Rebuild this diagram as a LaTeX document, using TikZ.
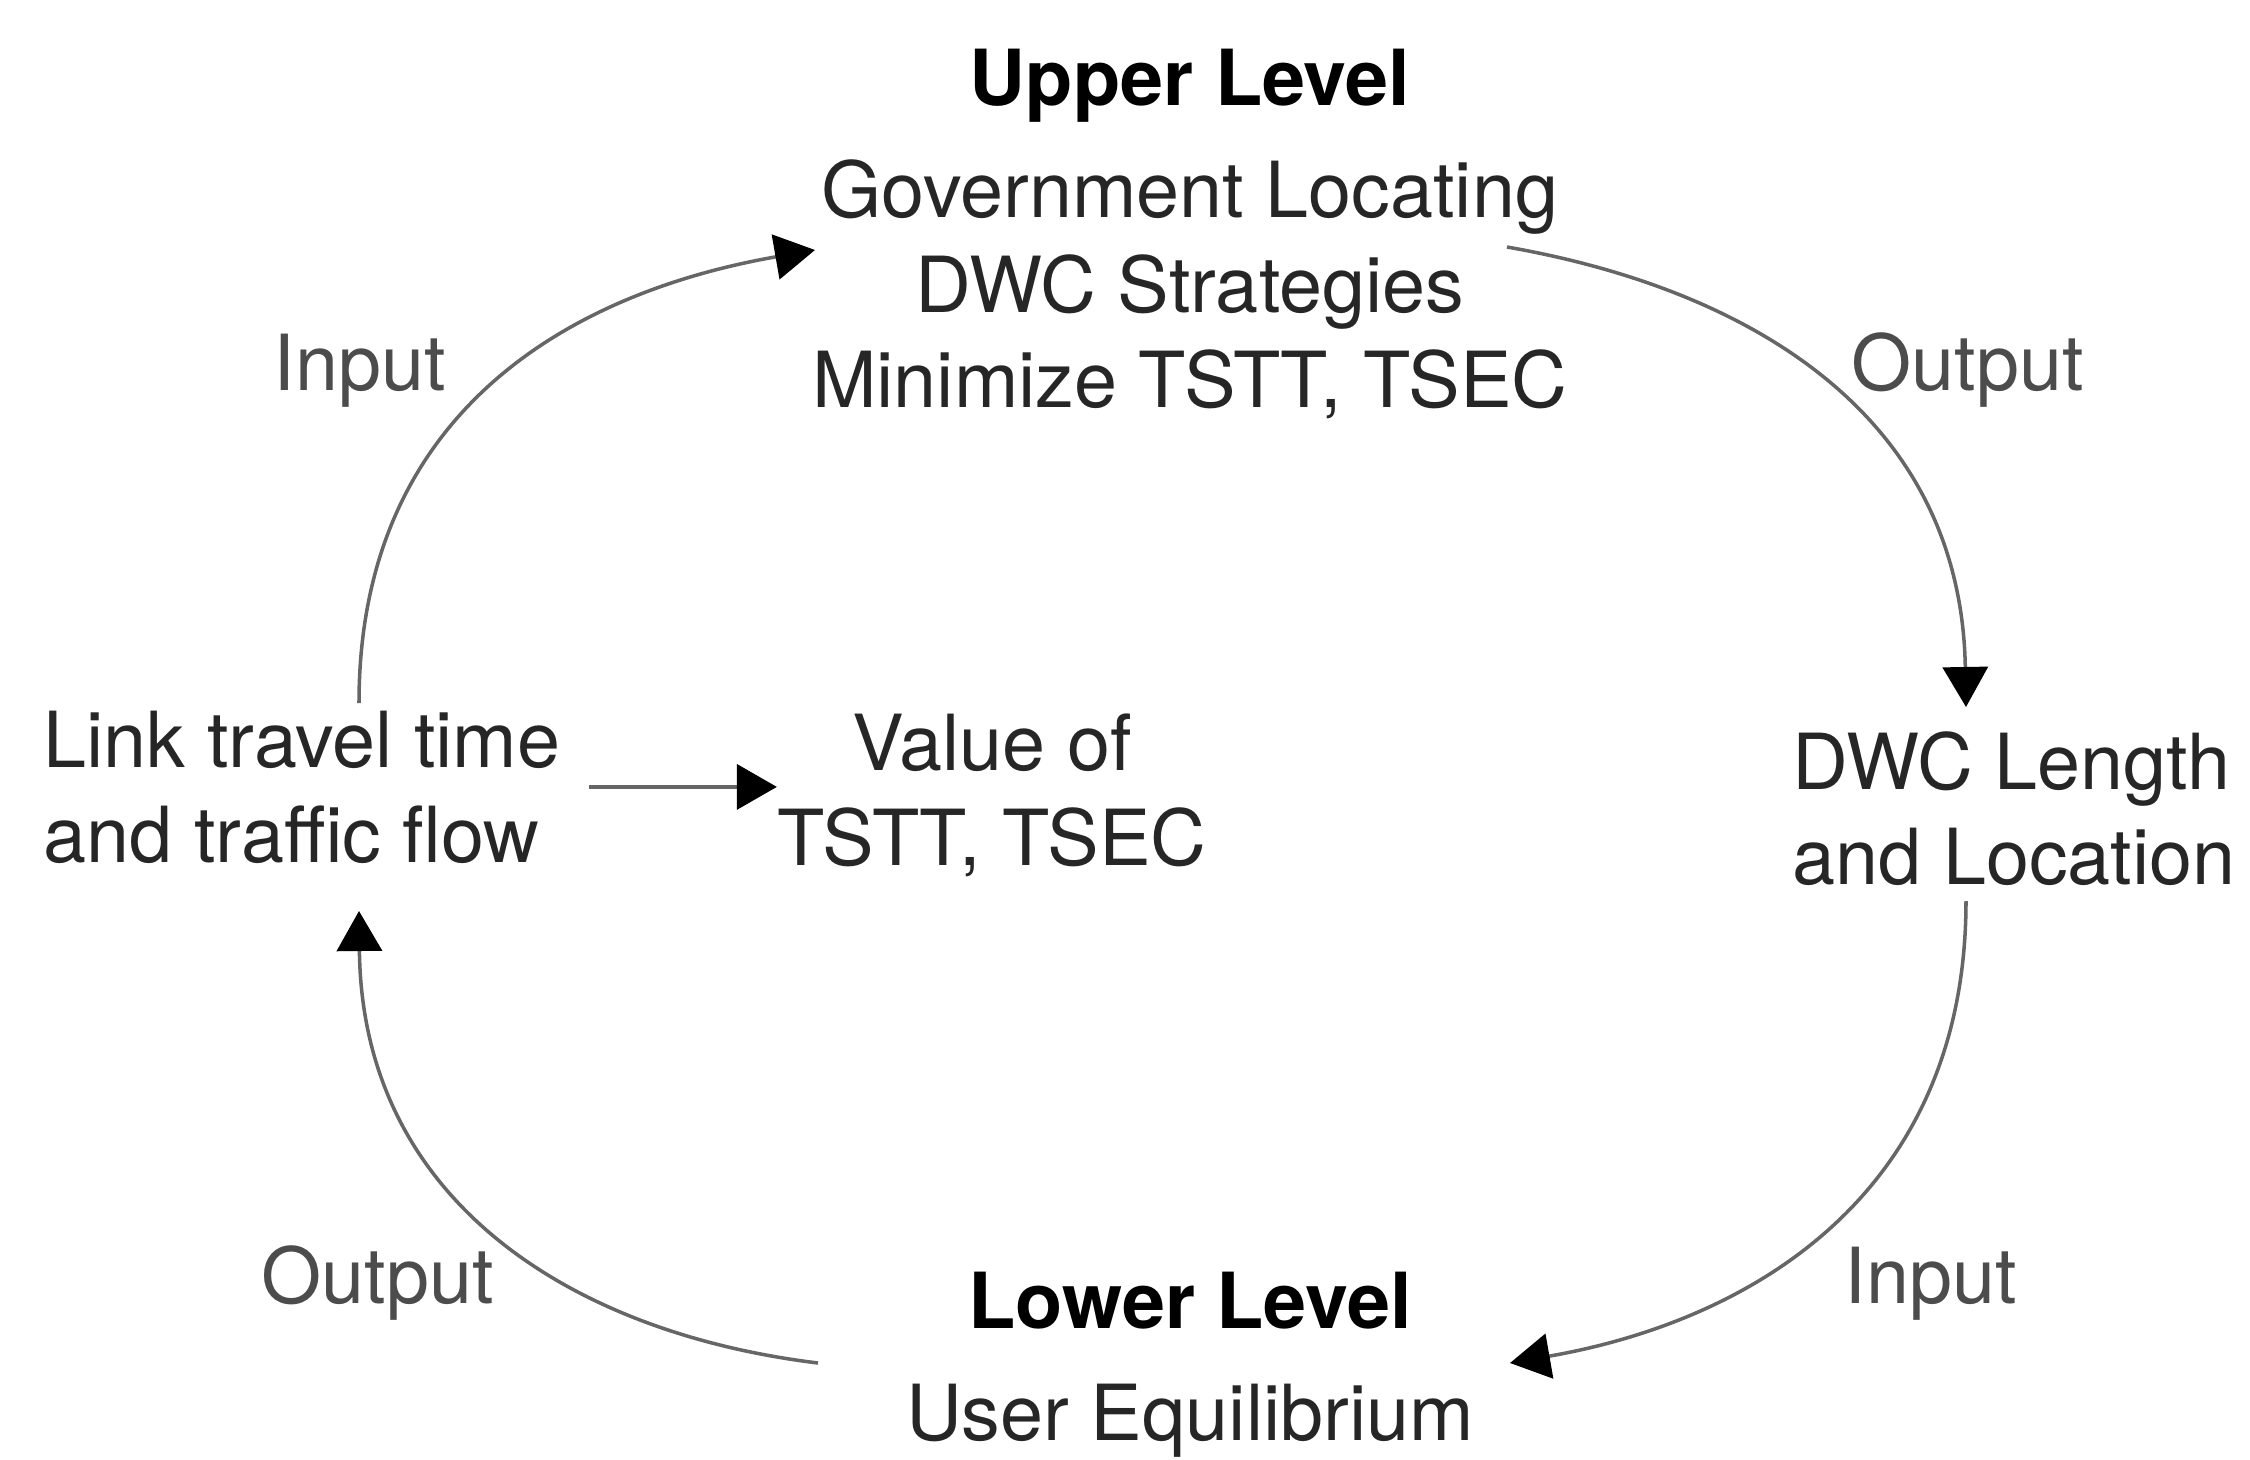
\documentclass[tikz,border=0pt]{standalone}
\usepackage{fontspec}
\setmainfont{TeX Gyre Heros}
\usetikzlibrary{arrows.meta}

\begin{document}
\begin{tikzpicture}[x=0.01cm, y=-0.01cm]
\tikzset{t/.style={font=\fontsize{22}{27}\selectfont, text=black!85, inner sep=0pt, align=center},
hd/.style={t, font=\fontsize{22}{27}\selectfont\bfseries, text=black},
lbl/.style={t, text=black!70},
f/.style={-{Triangle[length=0.4cm, width=0.45cm, color=black]}, draw=black!60, line width=1pt}};

\useasboundingbox (0,0) rectangle (2250,1460);

% anchor=base is the baseline of the last line
\node[hd, anchor=base] (upper) at (1190,105) {Upper Level};
\node[t, anchor=base] (gov) at (1190,407) {Government Locating\\DWC Strategies\\Minimize TSTT, TSEC};
\node[t, anchor=base west, align=left] (link) at (43,862) {Link travel time\\and traffic flow};
\node[t, anchor=base] (value) at (992,865) {Value of\\TSTT, TSEC};
\node[t, anchor=base west, align=left] (dwc) at (1792,884) {DWC Length\\and Location};
\node[hd, anchor=base] (lower) at (1190,1328) {Lower Level};
\node[t, anchor=base] (ue) at (1190,1440) {User Equilibrium};

\node[lbl, anchor=base west] (in1) at (273,390) {Input};
\node[lbl, anchor=base west] (out1) at (1851,390) {Output};
\node[lbl, anchor=base west] (out2) at (261,1303) {Output};
\node[lbl, anchor=base west] (in2) at (1844,1303) {Input};

% ends of the loop arcs
\coordinate (tl0) at (359,703);
\coordinate (tl1) at (815,250);
\coordinate (tr0) at (1507,247);
\coordinate (tr1) at (1966,707);
\coordinate (br0) at (1966,901);
\coordinate (br1) at (1510,1363);
\coordinate (bl0) at (818,1363);
\coordinate (bl1) at (359,911);

\draw[f] (tl0) .. controls +(0,-290) and +(-246,43) .. (tl1);
\draw[f] (tr0) .. controls +(246,43) and +(-5,-290) .. (tr1);
\draw[f] (br0) .. controls +(0,290) and +(246,-43) .. (br1);
\draw[f] (bl0) .. controls +(-246,-30) and +(3,290) .. (bl1);

\draw[f, shorten <=8pt] (link.east) -- (link.east -| value.west);

\end{tikzpicture}
\end{document}
